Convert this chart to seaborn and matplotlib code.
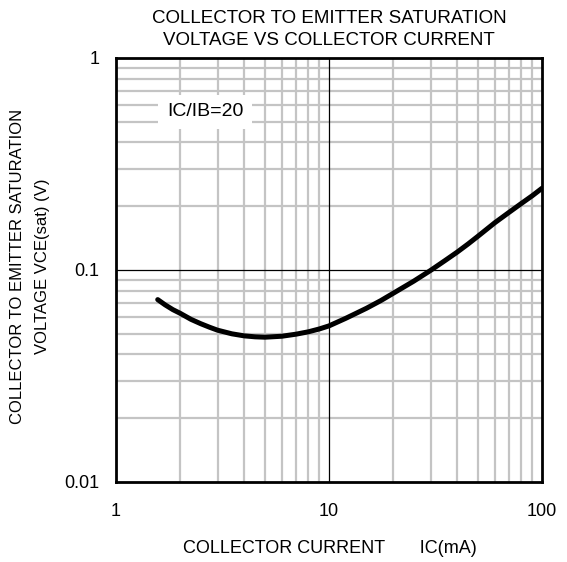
import matplotlib
matplotlib.use("Agg")
import matplotlib.pyplot as plt
import seaborn as sns
import pandas as pd
from matplotlib.ticker import FixedLocator, NullFormatter

ic_ma = [1.57, 1.7, 1.85, 2.0, 2.25, 2.5, 2.75, 3.0, 3.5, 4.0, 4.5, 5.0, 6.0,
         7.0, 8.0, 9.0, 10.0, 12.0, 15.0, 17.5, 20.0, 25.0, 30.0, 35.0, 40.0,
         45.0, 50.0, 60.0, 70.0, 80.0, 90.0, 100.0]
vce_sat = [0.0725, 0.0685, 0.065, 0.0625, 0.0585, 0.0558, 0.0537, 0.052,
           0.050, 0.0489, 0.0484, 0.0482, 0.0487, 0.0498, 0.0511, 0.0527,
           0.0545, 0.0592, 0.066, 0.0717, 0.0776, 0.0886, 0.0996, 0.1107,
           0.1215, 0.1327, 0.1442, 0.167, 0.187, 0.206, 0.224, 0.243]
x_ticks = [1, 10, 100]
x_labels = ["1", "10", "100"]
y_ticks = [0.01, 0.1, 1]
y_labels = ["0.01", "0.1", "1"]

sns.set_style("white")
plt.rcParams["font.family"] = ["Liberation Sans", "DejaVu Sans"]
plt.rcParams["text.color"] = "black"
plt.rcParams["xtick.color"] = "black"
plt.rcParams["ytick.color"] = "black"

df = pd.DataFrame({"IC": ic_ma, "VCE": vce_sat})

W, H = 567, 562
fig = plt.figure(figsize=(W / 100, H / 100), dpi=100)
ax = fig.add_axes([116 / W, 1 - 482 / H, 426 / W, 424 / H])
ax.set_xscale("log")
ax.set_yscale("log")

minor_x = [m * d for d in (1, 10) for m in range(2, 10)]
minor_y = [m * d for d in (0.01, 0.1) for m in range(2, 10)]
ax.xaxis.set_minor_locator(FixedLocator(minor_x))
ax.yaxis.set_minor_locator(FixedLocator(minor_y))
ax.xaxis.set_minor_formatter(NullFormatter())
ax.yaxis.set_minor_formatter(NullFormatter())
ax.grid(which="minor", color="#c4c4c4", linewidth=1.6)
ax.axvline(10, color="black", linewidth=0.9, zorder=1.5)
ax.axhline(0.1, color="black", linewidth=0.9, zorder=1.5)

sns.lineplot(data=df, x="IC", y="VCE", ax=ax, color="black", linewidth=3.6,
             zorder=3)
for ln in ax.get_lines():
    ln.set_solid_joinstyle("round")
    ln.set_solid_capstyle("round")

ax.set_xlim(1, 100)
ax.set_ylim(0.01, 1)
ax.set_xticks(x_ticks)
ax.set_xticklabels(x_labels)
ax.set_yticks(y_ticks)
ax.set_yticklabels(y_labels)
ax.tick_params(axis="both", which="both", length=0, labelsize=13,
               labelcolor="black")
ax.tick_params(axis="x", pad=15)
ax.tick_params(axis="y", pad=12)
ax.set_xlabel("")
ax.set_ylabel("")

for s in ax.spines.values():
    s.set_visible(True)
    s.set_color("black")
    s.set_linewidth(2)

# titles and axis labels
fig.text(329 / W, 1 - 22.7 / H, "COLLECTOR TO EMITTER SATURATION",
         fontsize=13.5, ha="center", va="baseline", color="black")
fig.text(329 / W, 1 - 45 / H, "VOLTAGE VS COLLECTOR CURRENT",
         fontsize=13.5, ha="center", va="baseline", color="black")
fig.text(330 / W, 1 - 553 / H, "COLLECTOR CURRENT       IC(mA)",
         fontsize=13, ha="center", va="baseline", color="black")
fig.text(18 / W, 1 - 266 / H, "COLLECTOR TO EMITTER SATURATION",
         fontsize=12, rotation=90, ha="center", va="center", color="black")
fig.text(43 / W, 1 - 266 / H, "VOLTAGE VCE(sat) (V)",
         fontsize=12, rotation=90, ha="center", va="center", color="black")

ax.text(0.209, 0.873, "IC/IB=20", transform=ax.transAxes, fontsize=14,
        ha="center", va="center", zorder=4, color="black",
        bbox=dict(facecolor="white", edgecolor="none", pad=6))

fig.savefig("out.png", dpi=100)
